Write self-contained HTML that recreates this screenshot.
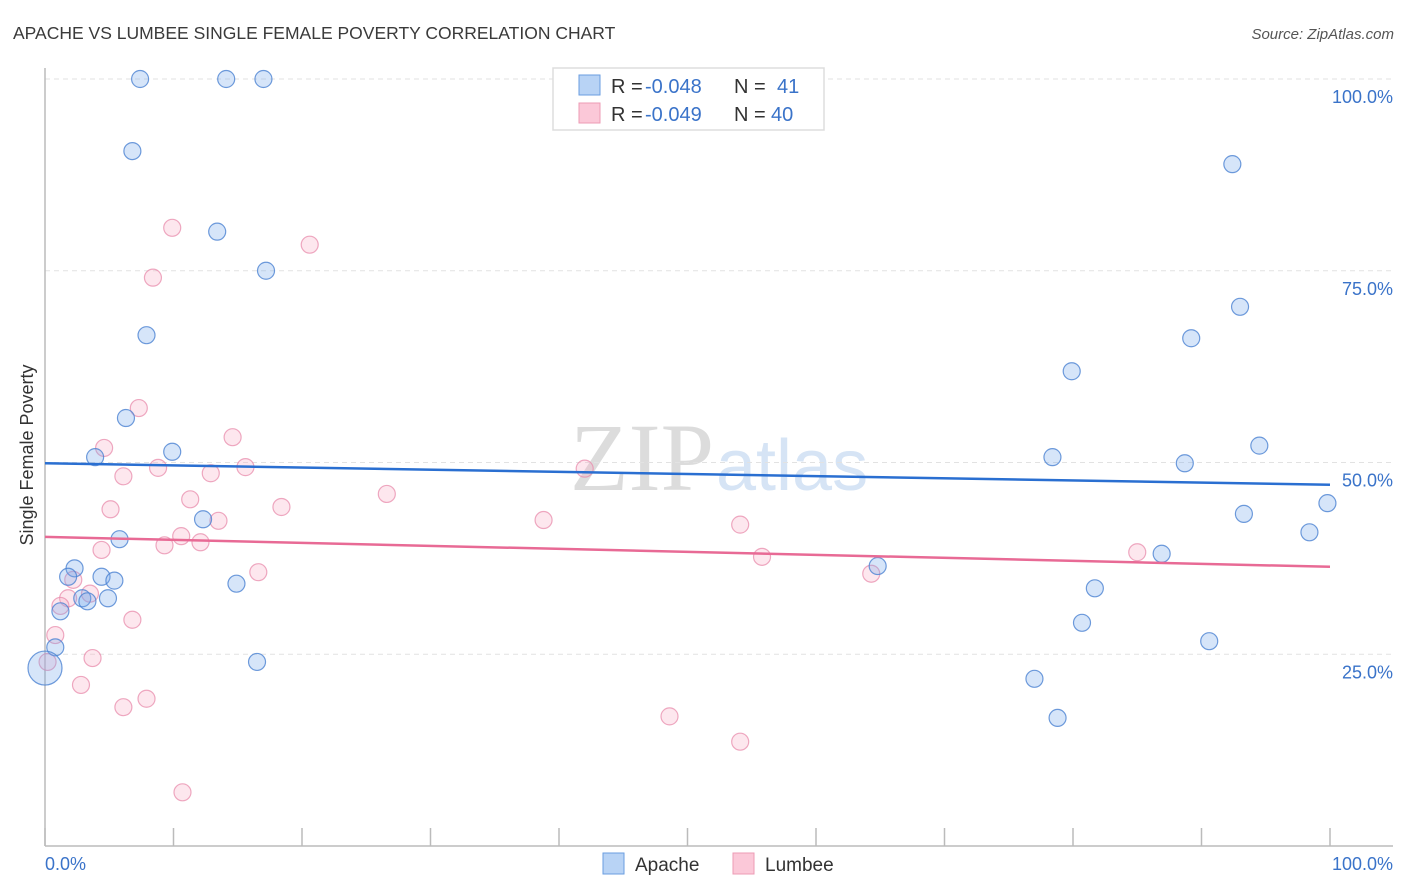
<!DOCTYPE html>
<html><head><meta charset="utf-8"><style>
body{margin:0;background:#fff;font-family:"Liberation Sans",sans-serif}
svg{display:block}
</style></head><body>
<svg width="1406" height="892" xmlns="http://www.w3.org/2000/svg" font-family="Liberation Sans, sans-serif">
<text x="13" y="39" font-size="17.5" fill="#3a3a3a">APACHE VS LUMBEE SINGLE FEMALE POVERTY CORRELATION CHART</text>
<text x="1394" y="39" font-size="15" font-style="italic" fill="#555" text-anchor="end">Source: ZipAtlas.com</text>
<text x="714" y="490" font-size="96" font-family="Liberation Serif, serif" fill="#dcdcdc" text-anchor="end">ZIP</text>
<text x="716" y="490" font-size="72" fill="#d6e4f5">atlas</text>
<g id="grid"></g>
<line x1="45" y1="68" x2="45" y2="846" stroke="#bbb" stroke-width="1.5"/>
<line x1="45" y1="846" x2="1393" y2="846" stroke="#bbb" stroke-width="1.5"/>
<g id="xticks"></g>
<text x="33" y="455" font-size="18" fill="#333" text-anchor="middle" transform="rotate(-90 33 455)">Single Female Poverty</text>
<text x="45" y="870" font-size="18" fill="#3a73c9">0.0%</text>
<text x="1393" y="870" font-size="18" fill="#3a73c9" text-anchor="end">100.0%</text>
<g id="points"></g>
<g id="trends"></g>
<g>
<rect x="553" y="68" width="271" height="62" fill="#fff" stroke="#ddd" stroke-width="1.5"/>
<rect x="579" y="75" width="21" height="20" fill="#b8d3f5" stroke="#6a9ee0"/>
<rect x="579" y="103" width="21" height="20" fill="#fbc8d8" stroke="#ec9bb5"/>
<text x="611" y="93" font-size="20" fill="#333">R =</text>
<text x="645" y="93" font-size="20" fill="#3a73c9">-0.048</text>
<text x="734" y="93" font-size="20" fill="#333">N =</text>
<text x="777" y="93" font-size="20" fill="#3a73c9">41</text>
<text x="611" y="121" font-size="20" fill="#333">R =</text>
<text x="645" y="121" font-size="20" fill="#3a73c9">-0.049</text>
<text x="734" y="121" font-size="20" fill="#333">N =</text>
<text x="771" y="121" font-size="20" fill="#3a73c9">40</text>
</g>
<rect x="603" y="853" width="21" height="21" fill="#b8d3f5" stroke="#6a9ee0"/>
<text x="635" y="871" font-size="19" fill="#333">Apache</text>
<rect x="733" y="853" width="21" height="21" fill="#fbc8d8" stroke="#ec9bb5"/>
<text x="765" y="871" font-size="19" fill="#333">Lumbee</text>
</svg>
<script>
const yTicks=[25,50,75,100];
const yTickLabels=["25.0%","50.0%","75.0%","100.0%"];
const xTicks=[0,10,20,30,40,50,60,70,80,90,100];
const apacheX=[7.4,14.1,17.0,6.8,13.4,17.2,7.9,6.3,9.9,3.9,12.3,5.8,2.3,1.8,4.4,5.4,14.9,2.9,4.9,3.3,1.2,0.8,0,16.5,92.4,93.0,89.2,79.9,94.5,78.4,88.7,99.8,93.3,98.4,64.8,86.9,81.7,80.7,90.6,77.0,78.8];
const apacheY=[100,100,100,90.6,80.1,75.0,66.6,55.8,51.4,50.7,42.6,40.0,36.2,35.1,35.1,34.6,34.2,32.3,32.3,31.9,30.6,25.9,23.2,24.0,88.9,70.3,66.2,61.9,52.2,50.7,49.9,44.7,43.3,40.9,36.5,38.1,33.6,29.1,26.7,21.8,16.7];
const lumbeeX=[9.9,20.6,8.4,7.3,14.6,4.6,6.1,8.8,12.9,15.6,11.3,26.6,5.1,18.4,13.5,38.8,42.0,54.1,10.6,9.3,12.1,4.4,55.8,16.6,64.3,85.0,2.2,3.5,1.8,1.2,6.8,0.8,3.7,0.2,2.8,7.9,6.1,48.6,54.1,10.7];
const lumbeeY=[80.6,78.4,74.1,57.1,53.3,51.9,48.2,49.3,48.6,49.4,45.2,45.9,43.9,44.2,42.4,42.5,49.2,41.9,40.4,39.2,39.6,38.6,37.7,35.7,35.5,38.3,34.7,32.9,32.3,31.3,29.5,27.5,24.5,24.0,21.0,19.2,18.1,16.9,13.6,7.0];
const apacheTrend=[49.9,47.1];
const lumbeeTrend=[40.3,36.4];
const X=v=>45+v*12.85, Y=v=>846-v*7.67;
const NS="http://www.w3.org/2000/svg";
function mk(tag,attrs,parent){const e=document.createElementNS(NS,tag);for(const k in attrs)e.setAttribute(k,attrs[k]);document.getElementById(parent).appendChild(e);return e;}
yTicks.forEach((t,i)=>{
 const l=mk('line',{x1:45,x2:1393,y1:Y(t),y2:Y(t),stroke:'#e2e2e2','stroke-dasharray':'5,4'},'grid');
 
 
 const tx=mk('text',{x:1393,y:Y(t)+24,'font-size':18,fill:'#3a73c9','text-anchor':'end'},'grid');
 tx.textContent=yTickLabels[i];
 
 
});
xTicks.forEach(t=>{
 const l=mk('line',{x1:X(t),x2:X(t),y1:828,y2:846,stroke:'#bbb','stroke-width':1.5},'xticks');
 
 
});
lumbeeX.forEach((v,i)=>{
 const c=mk('circle',{cx:X(v),cy:Y(lumbeeY[i]),r:8.5,fill:'rgba(248,175,200,0.3)',stroke:'rgba(232,140,172,0.75)','stroke-width':1.2},'points');
 
 
});
apacheX.forEach((v,i)=>{
 const c=mk('circle',{cx:X(v),cy:Y(apacheY[i]),r:(v===0?17:8.5),fill:'rgba(120,170,235,0.3)',stroke:'rgba(75,130,210,0.8)','stroke-width':1.2},'points');
 
 
});
const a=mk('line',{x1:X(0),x2:X(100),y1:Y(apacheTrend[0]),y2:Y(apacheTrend[1]),stroke:'#2a6fd1','stroke-width':2.5},'trends');


const b=mk('line',{x1:X(0),x2:X(100),y1:Y(lumbeeTrend[0]),y2:Y(lumbeeTrend[1]),stroke:'#e86a95','stroke-width':2.5},'trends');


</script>
</body></html>
